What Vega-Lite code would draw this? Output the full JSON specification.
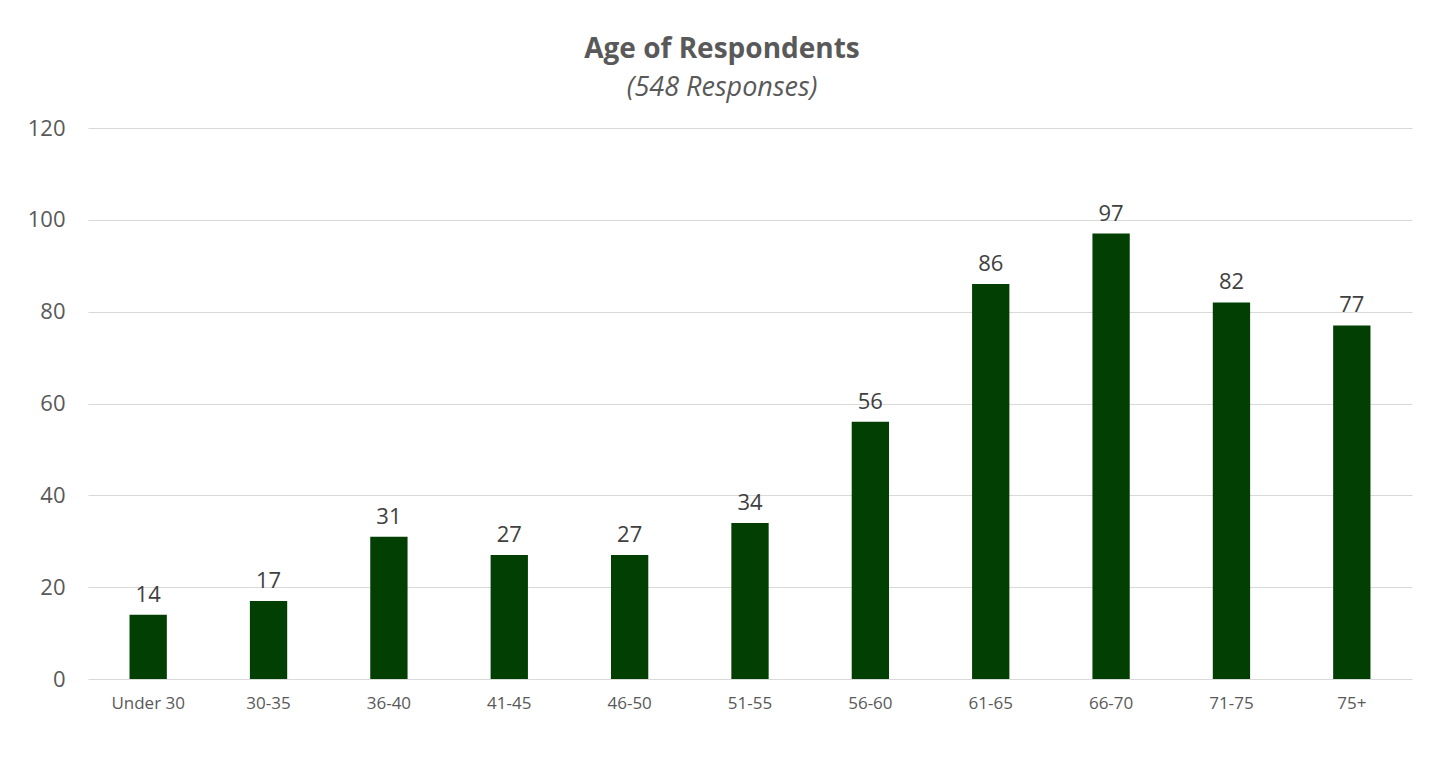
{
  "$schema": "https://vega.github.io/schema/vega-lite/v6.json",
  "width": 1324,
  "height": 551,
  "autosize": {"type": "none"},
  "padding": {"left": 88, "top": 128, "right": 33, "bottom": 80},
  "background": "white",
  "title": {
    "text": "Age of Respondents",
    "subtitle": "(548 Responses)",
    "anchor": "middle",
    "dx": -28,
    "font": "Open Sans",
    "fontSize": 28,
    "fontWeight": "bold",
    "color": "#595959",
    "subtitleFont": "Open Sans",
    "subtitleFontSize": 27,
    "subtitleFontStyle": "italic",
    "subtitleColor": "#595959",
    "subtitlePadding": 11,
    "offset": 16
  },
  "data": {
    "values": [
      {"age": "Under 30", "count": 14},
      {"age": "30-35", "count": 17},
      {"age": "36-40", "count": 31},
      {"age": "41-45", "count": 27},
      {"age": "46-50", "count": 27},
      {"age": "51-55", "count": 34},
      {"age": "56-60", "count": 56},
      {"age": "61-65", "count": 86},
      {"age": "66-70", "count": 97},
      {"age": "71-75", "count": 82},
      {"age": "75+", "count": 77}
    ]
  },
  "encoding": {
    "x": {
      "field": "age",
      "type": "nominal",
      "sort": null,
      "scale": {"paddingInner": 0.69, "paddingOuter": 0.345},
      "axis": {
        "title": null,
        "labelAngle": 0,
        "labelFont": "Open Sans",
        "labelFontSize": 17,
        "labelColor": "#595959",
        "labelPadding": 16,
        "ticks": false,
        "domain": false,
        "grid": false
      }
    },
    "y": {
      "field": "count",
      "type": "quantitative",
      "scale": {"domain": [0, 120]},
      "axis": {
        "title": null,
        "values": [0, 20, 40, 60, 80, 100, 120],
        "labelFont": "Open Sans",
        "labelFontSize": 22,
        "labelColor": "#595959",
        "labelPadding": 23,
        "ticks": false,
        "domain": false,
        "grid": true,
        "gridColor": "#d9d9d9",
        "gridWidth": 1
      }
    }
  },
  "layer": [
    {"mark": {"type": "bar", "color": "#023f02"}},
    {
      "mark": {
        "type": "text",
        "baseline": "alphabetic",
        "dy": -13,
        "font": "Open Sans",
        "fontSize": 22,
        "color": "#404040"
      },
      "encoding": {"text": {"field": "count", "type": "quantitative"}}
    }
  ],
  "config": {"view": {"stroke": null}}
}
